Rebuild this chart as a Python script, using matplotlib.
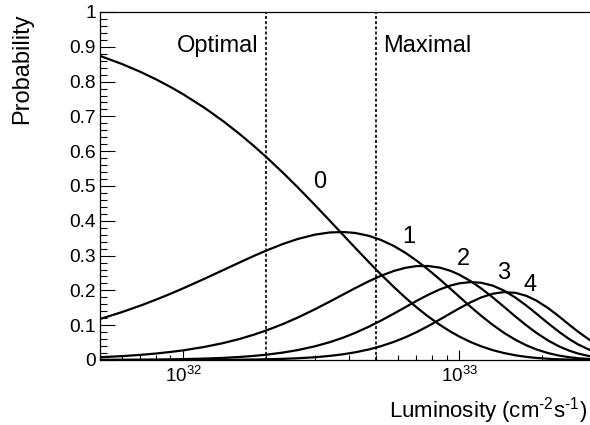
import math
import matplotlib
matplotlib.use('Agg')
import matplotlib.pyplot as plt
from matplotlib.ticker import LogLocator, NullFormatter, FixedLocator, MultipleLocator, FuncFormatter

plt.rcParams['font.family'] = ['Liberation Sans', 'DejaVu Sans']
plt.rcParams['mathtext.fontset'] = 'custom'
plt.rcParams['mathtext.rm'] = 'Liberation Sans'
plt.rcParams['mathtext.it'] = 'Liberation Sans:italic'
plt.rcParams['mathtext.bf'] = 'Liberation Sans:bold'

# luminosity samples (cm^-2 s^-1) and probabilities
lumi = [5e31, 6e31, 7e31, 8e31, 9e31, 1.0e32, 1.2e32, 1.4e32, 1.6e32, 1.8e32,
        2.0e32, 2.3e32, 2.6e32, 3.0e32, 3.4e32, 3.8e32, 4.2e32, 4.7e32, 5.2e32, 5.8e32,
        6.4e32, 7.0e32, 7.7e32, 8.5e32, 9.3e32, 1.0e33, 1.1e33, 1.2e33, 1.32e33, 1.45e33,
        1.6e33, 1.75e33, 1.9e33, 2.1e33, 2.3e33, 2.5e33, 2.7e33, 3.0e33]

p0 = [0.8739, 0.8507, 0.8281, 0.8060, 0.7846, 0.7637, 0.7237, 0.6857, 0.6497, 0.6156,
      0.5833, 0.5380, 0.4962, 0.4455, 0.4000, 0.3590, 0.3224, 0.2817, 0.2462, 0.2095,
      0.1782, 0.1516, 0.1255, 0.1012, 0.0815, 0.0675, 0.0515, 0.0394, 0.0285, 0.0201,
      0.0134, 0.0089, 0.0060, 0.0035, 0.0020, 0.0012, 0.0007, 0.0003]

p1 = [0.1178, 0.1376, 0.1562, 0.1738, 0.1903, 0.2059, 0.2341, 0.2588, 0.2802, 0.2987,
      0.3144, 0.3335, 0.3477, 0.3602, 0.3665, 0.3678, 0.3650, 0.3569, 0.3451, 0.3275,
      0.3074, 0.2859, 0.2604, 0.2318, 0.2044, 0.1819, 0.1528, 0.1273, 0.1014, 0.0784,
      0.0578, 0.0422, 0.0306, 0.0197, 0.0126, 0.0080, 0.0050, 0.0025]

p2 = [0.0079, 0.0111, 0.0147, 0.0187, 0.0231, 0.0277, 0.0379, 0.0488, 0.0604, 0.0725,
      0.0848, 0.1034, 0.1219, 0.1457, 0.1680, 0.1883, 0.2066, 0.2261, 0.2419, 0.2560,
      0.2651, 0.2698, 0.2702, 0.2655, 0.2562, 0.2452, 0.2265, 0.2059, 0.1804, 0.1533,
      0.1245, 0.0995, 0.0783, 0.0558, 0.0390, 0.0269, 0.0183, 0.0101]

p3 = [0.0004, 0.0006, 0.0009, 0.0013, 0.0019, 0.0025, 0.0041, 0.0061, 0.0087, 0.0117,
      0.0152, 0.0214, 0.0285, 0.0393, 0.0513, 0.0643, 0.0780, 0.0955, 0.1130, 0.1334,
      0.1524, 0.1697, 0.1870, 0.2028, 0.2140, 0.2203, 0.2239, 0.2220, 0.2139, 0.1997,
      0.1790, 0.1564, 0.1336, 0.1053, 0.0807, 0.0603, 0.0443, 0.0272]

p4 = [0.0000, 0.0000, 0.0000, 0.0001, 0.0001, 0.0002, 0.0003, 0.0006, 0.0009, 0.0014,
      0.0021, 0.0033, 0.0050, 0.0079, 0.0118, 0.0165, 0.0221, 0.0302, 0.0396, 0.0521,
      0.0657, 0.0800, 0.0970, 0.1162, 0.1341, 0.1485, 0.1660, 0.1796, 0.1903, 0.1951,
      0.1930, 0.1844, 0.1710, 0.1490, 0.1250, 0.1016, 0.0807, 0.0549]

curves = [p0, p1, p2, p3, p4]
curve_names = ['0', '1', '2', '3', '4']
label_pos = [(3.12e32, 0.493), (6.55e32, 0.335), (1.035e33, 0.273), (1.446e33, 0.232), (1.803e33, 0.198)]

optimal_lumi = 2e32
maximal_lumi = 5e32

fig = plt.figure(figsize=(5.9, 4.25), dpi=100)
ax = fig.add_axes([100 / 590, 65 / 425, 491 / 590, 348 / 425])

for p in curves:
    ax.plot(lumi, p, color='k', lw=1.6, solid_capstyle='butt')

ax.axvline(optimal_lumi, color='k', lw=1.2, ls=(0, (1.8, 1.3)))
ax.axvline(maximal_lumi, color='k', lw=1.2, ls=(0, (1.8, 1.3)))

for name, (x, y) in zip(curve_names, label_pos):
    ax.text(x, y, name, ha='center', va='baseline', fontsize=17)

ax.text(1.87e32, 0.886, 'Optimal', ha='right', va='baseline', fontsize=17)
ax.text(5.28e32, 0.886, 'Maximal', ha='left', va='baseline', fontsize=17)

ax.set_xscale('log')
ax.set_xlim(5e31, 3e33)
ax.set_ylim(0, 1)

ax.xaxis.set_major_locator(FixedLocator([1e32, 1e33]))
ax.xaxis.set_major_formatter(FuncFormatter(lambda v, pos: '$10^{%d}$' % round(math.log10(v))))
ax.xaxis.set_minor_locator(LogLocator(base=10, subs=[2, 3, 4, 5, 6, 7, 8, 9], numticks=20))
ax.xaxis.set_minor_formatter(NullFormatter())

ax.yaxis.set_major_locator(MultipleLocator(0.1))
ax.yaxis.set_minor_locator(MultipleLocator(0.02))
ax.yaxis.set_major_formatter(FuncFormatter(lambda v, pos: '%g' % round(v, 2)))

ax.tick_params(axis='y', which='major', direction='in', length=10.8, width=0.8, pad=3, labelsize=13.8)
ax.tick_params(axis='y', which='minor', direction='in', length=5.3, width=0.8)
ax.tick_params(axis='x', which='major', direction='in', length=7.2, width=0.8, pad=4, labelsize=13.5)
ax.tick_params(axis='x', which='minor', direction='in', length=3.6, width=0.8)

for s in ax.spines.values():
    s.set_linewidth(0.9)

fig.text(22.5 / 590, 1 - 13 / 425, 'Probability', rotation=90, ha='center', va='top', fontsize=17)
fig.text(587 / 590, 1 - 417.5 / 425, r'Luminosity (cm$^{\text{-}2}$s$^{\text{-}1}$)',
         ha='right', va='baseline', fontsize=16)

fig.savefig('out.png', dpi=100)
